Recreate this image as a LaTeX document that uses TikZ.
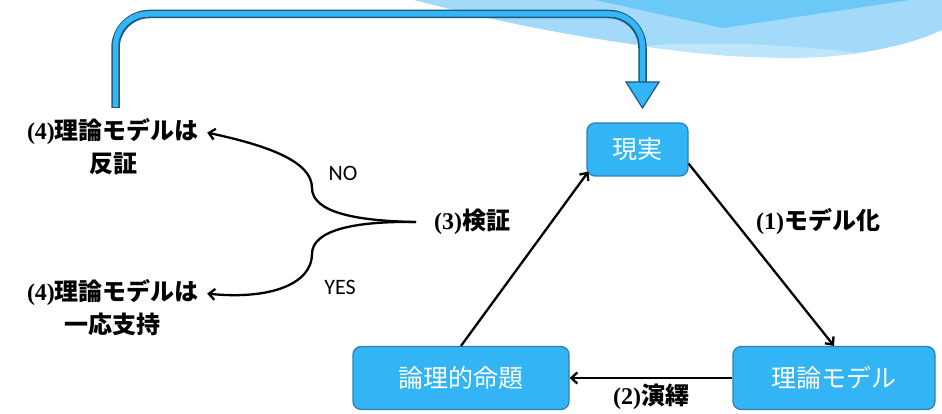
\documentclass[tikz,border=0pt]{standalone}
\usepackage{fontspec}
\setmainfont{Liberation Serif}
\newfontfamily\jpfont{Noto Sans CJK JP}
\newfontfamily\yesnofont{Carlito}
\usetikzlibrary{arrows.meta,calc}
\definecolor{boxblue}{HTML}{33B4F5}
\definecolor{boxborder}{HTML}{2E7FB0}
\definecolor{arrowblue}{HTML}{33B6F8}
\definecolor{arrowedge}{HTML}{1E5A78}
\definecolor{swlight}{HTML}{A3D9F9}
\definecolor{swmid}{HTML}{6CC8F6}
\definecolor{swpale}{HTML}{BDE5FB}
\tikzset{
  stepbox/.style={rectangle, rounded corners=8pt, fill=boxblue, draw=boxborder, line width=1.2pt,
    text=white, font=\jpfont\fontsize{25}{28}\selectfont, inner sep=0pt},
  lbl/.style={font=\fontsize{24}{33}\selectfont\bfseries, align=center, inner sep=0pt},
  yn/.style={font=\yesnofont\fontsize{22}{26}\selectfont, inner sep=0pt},
  conn/.style={line width=2.3pt, -{Straight Barb[length=6pt,width=11pt,line width=2.3pt]}},
}
\newcommand{\jb}[1]{{\jpfont\bfseries #1}}
\begin{document}
\begin{tikzpicture}[x=1pt,y=-1pt]
\useasboundingbox (0,0) rectangle (942,414);
% background swoosh
\fill[swlight] (414,0) .. controls (520,28) and (640,50) .. (760,57)
  .. controls (850,61) and (910,45) .. (942,30) -- (942,0) -- cycle;
\fill[swpale] (640,46) .. controls (700,54) and (730,57) .. (760,57)
  .. controls (800,59) and (830,57) .. (860,53)
  .. controls (800,46) and (720,40) .. (640,46) -- cycle;
\fill[swmid] (595,0) -- (723,28) -- (910,0) -- cycle;
% nodes
\node[stepbox, minimum width=101pt, minimum height=53pt] (genjitsu) at (637.5,149.5) {現実};
\node[stepbox, minimum width=202pt, minimum height=63pt] (riron) at (834,378) {理論モデル};
\node[stepbox, minimum width=216pt, minimum height=63pt] (ronri) at (461,378) {論理的命題};
\node[lbl] (hansho) at (113,147) {(4)\jb{理論モデルは}\\\jb{反証}};
\node[lbl] (shiji) at (113,308) {(4)\jb{理論モデルは}\\\jb{一応支持}};
\node[lbl, anchor=west] (kensho) at (434,222) {(3)\jb{検証}};
\node[lbl, anchor=west] (modelka) at (756,222) {(1)\jb{モデル化}};
\node[lbl] (enneki) at (651,397) {(2)\jb{演繹}};
\node[yn] (no) at (343,173) {NO};
\node[yn] (yes) at (340,287) {YES};
% big loop arrow
\coordinate (loopstart) at (115.5,108);
\coordinate (loopend) at (642.5,84);
\coordinate (looptip) at (642.5,108);
\draw[arrowedge, line width=8.5pt, rounded corners=34pt] (loopstart) -- (115.5,14) -- (642.5,14) -- (loopend);
\draw[arrowblue, line width=5.5pt, rounded corners=32.5pt, shorten <=1.2pt] (loopstart) -- (115.5,14) -- (642.5,14) -- (loopend);
\filldraw[fill=arrowblue, draw=arrowedge, line width=1.2pt, line join=miter] (626,82) -- (659,82) -- (looptip) -- cycle;
% triangle connectors
\draw[conn] ($(genjitsu.south east)+(0,-13)$) -- (riron.north);
\draw[conn] (riron.west) -- (ronri.east);
\draw[conn] (ronri.north) -- ($(genjitsu.south west)+(2,-5)$);
% split curves
\coordinate (split) at ($(kensho.west)+(-18,0)$);
\draw[conn] (split) .. controls (355,221) and (312,212) .. (312,188)
  .. controls (312,162) and (270,146) .. ($(hansho.north east)+(8,14)$);
\draw[conn] (split) .. controls (355,221) and (312,230) .. (312,254)
  .. controls (312,284) and (270,300) .. ($(shiji.north east)+(8,14)$);
\end{tikzpicture}
\end{document}
